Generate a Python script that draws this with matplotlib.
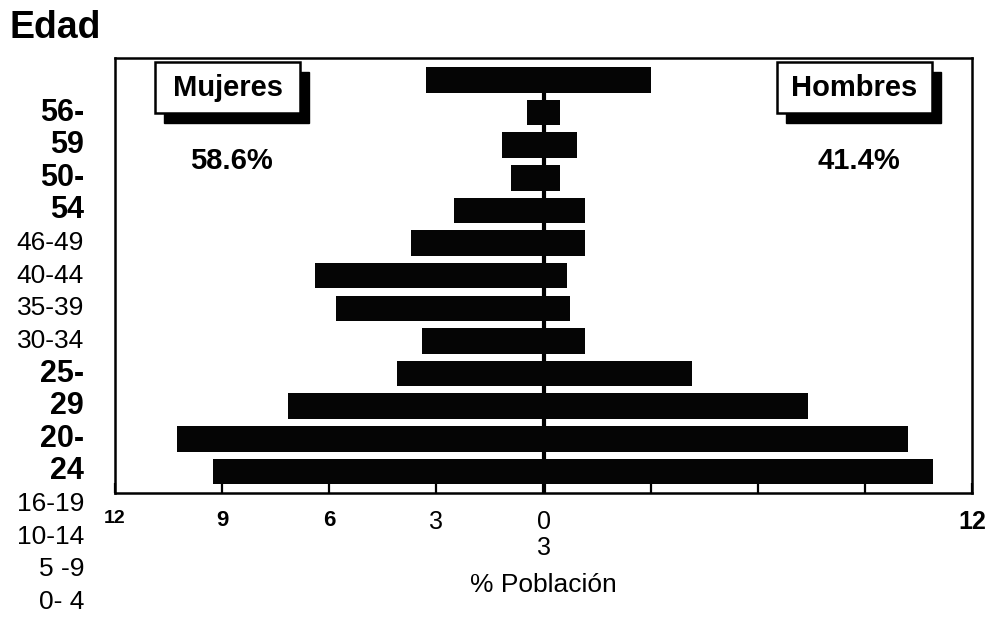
import matplotlib
matplotlib.use("Agg")
import matplotlib.pyplot as plt
import matplotlib.transforms as mtransforms
from matplotlib.patches import Rectangle

plt.rcParams['font.family'] = ['Liberation Sans', 'DejaVu Sans']

# bars, read top to bottom as drawn in the scan
mujeres = [3.3, 0.45, 1.15, 0.9, 2.5, 3.7, 6.4, 5.8, 3.4, 4.1, 7.15, 10.25, 9.25]
hombres = [3.0, 0.45, 0.95, 0.45, 1.15, 1.15, 0.65, 0.75, 1.15, 4.15, 7.4, 10.2, 10.9]

# age labels as printed down the left margin
edades = ["56-", "59", "50-", "54", "46-49", "40-44", "35-39", "30-34",
          "25-", "29", "20-", "24", "16-19", "10-14", "5 -9", "0- 4"]
negrita = [True, True, True, True, False, False, False, False,
           True, True, True, True, False, False, False, False]

xticks = [-12, -9, -6, -3, 0, 3, 6, 9, 12]
xticklabels = ["12", "9", "6", "3", "0", "", "", "", "12"]

n = len(mujeres)
ypos = [n - 1 - i for i in range(n)]

fig = plt.figure(figsize=(9.93, 6.18), dpi=100)
ax = fig.add_axes([0.1158, 0.2023, 0.8631, 0.7038])

ax.vlines(0, -0.7, ypos[0], color="black", lw=3, zorder=1)
ax.barh(ypos, [-m for m in mujeres], height=0.78, color="#050505", zorder=2)
ax.barh(ypos, hombres, height=0.78, color="#050505", zorder=2)

ax.set_xlim(-12, 12)
ax.set_ylim(-0.66, n - 1 + 0.67)
ax.set_yticks([])
ax.set_xticks(xticks)
ax.set_xticklabels(xticklabels)
ax.tick_params(axis="x", direction="in", length=7, width=1.6, pad=12)
for s in ax.spines.values():
    s.set_linewidth(1.8)

tl = ax.get_xticklabels()
for lab in tl:
    lab.set_fontsize(18)
tl[0].set_fontsize(14); tl[0].set_fontweight("bold")
tl[1].set_fontsize(16); tl[1].set_fontweight("bold")
tl[2].set_fontsize(16); tl[2].set_fontweight("bold")
tl[-1].set_fontweight("bold")

ax.text(0, -0.126, "3", transform=ax.get_xaxis_transform(), ha="center", va="center", fontsize=18)
ax.text(0, -0.2115, "% Población", transform=ax.get_xaxis_transform(), ha="center", va="center", fontsize=19)

# left margin labels, one row per bar step
trans = mtransforms.blended_transform_factory(fig.transFigure, ax.transData)
for k, (lab, b) in enumerate(zip(edades, negrita)):
    ax.text(0.0846, n - 2 - k, lab, transform=trans, ha="right", va="center",
            fontsize=22 if b else 19, fontweight="bold" if b else "normal", clip_on=False)

fig.text(0.01, 0.955, "Edad", fontsize=27, fontweight="bold", va="center", ha="left",
         family=["Liberation Sans Narrow", "Liberation Sans", "DejaVu Sans"])

# legend boxes with drop shadow
shadow = ax.transAxes + mtransforms.ScaledTranslation(0.09, -0.10, fig.dpi_scale_trans)
for (x0, x1), nombre, pct in [((0.0467, 0.2159), "Mujeres", "58.6%"),
                              ((0.7725, 0.9534), "Hombres", "41.4%")]:
    y0, y1 = 0.8736, 0.9908
    ax.add_patch(Rectangle((x0, y0), x1 - x0, y1 - y0, transform=shadow,
                           facecolor="black", edgecolor="black", zorder=3))
    ax.add_patch(Rectangle((x0, y0), x1 - x0, y1 - y0, transform=ax.transAxes,
                           facecolor="white", edgecolor="black", lw=1.8, zorder=4))
    ax.text((x0 + x1) / 2, (y0 + y1) / 2, nombre, transform=ax.transAxes, ha="center",
            va="center", fontsize=21, fontweight="bold", zorder=5)
    ax.text((x0 + x1) / 2 + 0.005, 0.763, pct, transform=ax.transAxes, ha="center",
            va="center", fontsize=21, fontweight="bold", zorder=5)

fig.savefig("out.png", dpi=100)
